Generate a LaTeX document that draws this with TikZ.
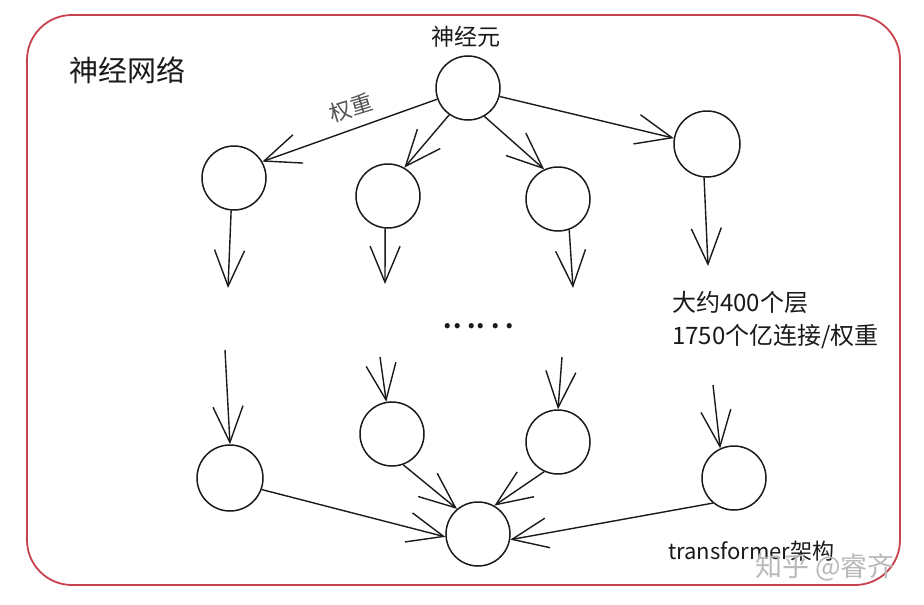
\documentclass[tikz,border=0pt]{standalone}
\usepackage{fontspec}
\setmainfont{Noto Sans CJK SC}
\usetikzlibrary{arrows.meta}
\definecolor{frame}{HTML}{C8424C}
\definecolor{ink}{HTML}{1A1A1A}
\begin{document}
\begin{tikzpicture}[x=1pt,y=-1pt,
  neuron/.style={circle,draw=ink,line width=1.5pt,minimum size=64pt,inner sep=0pt},
  link/.style={draw=ink,line width=1.4pt,-{Straight Barb[length=36pt,width=30pt,line width=1.4pt]}},
  lbl/.style={text=ink,inner sep=0pt,anchor=west}]
\useasboundingbox (0,0) rectangle (924,605);
\fill[white] (0,0) rectangle (924,605);
\draw[frame,line width=1.8pt,rounded corners=45pt] (27,15) rectangle (900,585);
% nodes
\node[neuron] (top) at (468,88) {};
\node[neuron] (l1) at (234,178) {};
\node[neuron] (m1) at (388,196) {};
\node[neuron] (m2) at (558,199) {};
\node[neuron,minimum size=66pt] (r1) at (707,144) {};
\node[neuron,minimum size=66pt] (l2) at (230,478) {};
\node[neuron] (m3) at (392,434) {};
\node[neuron] (m4) at (558,442) {};
\node[neuron] (r2) at (734,478) {};
\node[neuron] (bot) at (478,534) {};
% free ends
\coordinate (l1e) at (228,288);
\coordinate (m1e) at (385,284);
\coordinate (m2e) at (573,288);
\coordinate (r1e) at (708,266);
\coordinate (l2s) at (225,350);
\coordinate (m3s) at (380,357);
\coordinate (m4s) at (562,357);
\coordinate (r2s) at (713,385);
% texts
\node[text=ink,inner sep=0pt,font=\fontsize{23pt}{25pt}\selectfont] (tlabel) at (466,37) {神经元};
\node[lbl,font=\fontsize{29pt}{32pt}\selectfont] (title) at (69,70) {神经网络};
\node[text=ink!75,inner sep=0pt,font=\fontsize{22pt}{24pt}\selectfont,rotate=17] (w) at (351,108) {权重};
\node[lbl,font=\fontsize{24pt}{27pt}\selectfont] (t1) at (672,302) {大约400个层};
\node[lbl,font=\fontsize{24pt}{27pt}\selectfont] (t2) at (672,337) {1750个亿连接/权重};
\node[lbl,font=\fontsize{22pt}{24pt}\selectfont] (t3) at (668,551) {transformer架构};
\node[lbl,text=gray!55,font=\fontsize{27pt}{29pt}\selectfont] (wm) at (755,567) {知乎 @睿齐};
\node[text=ink,inner sep=0pt,font=\fontsize{24pt}{26pt}\selectfont\bfseries] (dots) at (479,326) {.\kern1pt.\kern6pt.\kern1pt.\kern6pt.\kern6pt.};
% connectors
\draw[link] (top.200) -- (l1.30);
\draw[link] (top.235) -- (m1.60);
\draw[link] (top.300) -- (m2.115);
\draw[link] (top.345) -- (r1.170);
\draw[link] (l1.265) -- (l1e);
\draw[link] (m1.265) -- (m1e);
\draw[link] (m2.290) -- (m2e);
\draw[link] (r1.265) -- (r1e);
\draw[link] (l2s) -- (l2.90);
\draw[link] (m3s) -- (m3.100);
\draw[link] (m4s) -- (m4.90);
\draw[link] (r2s) -- (r2.115);
\draw[link] (l2.340) -- (bot.185);
\draw[link] (m3.290) -- (bot.130);
\draw[link] (m4.245) -- (bot.60);
\draw[link] (r2.230) -- (bot.350);
\end{tikzpicture}
\end{document}
